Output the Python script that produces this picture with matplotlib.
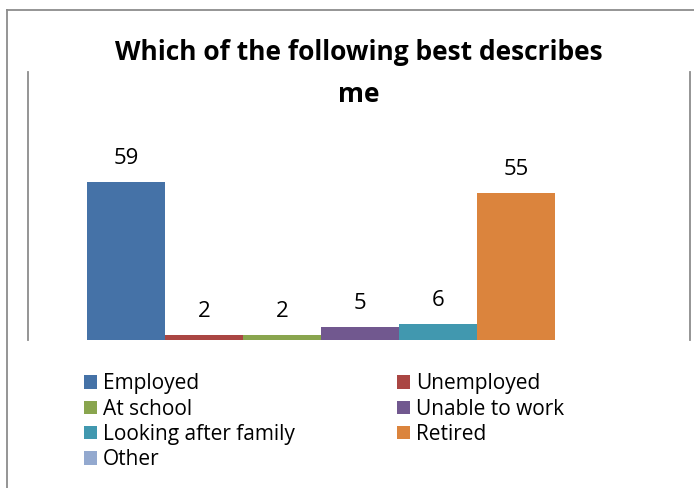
import matplotlib
matplotlib.use("Agg")
import matplotlib.pyplot as plt
from matplotlib.lines import Line2D
from matplotlib.patches import Patch

plt.rcParams['font.family'] = ['Open Sans', 'DejaVu Sans']

title = "Which of the following best describes\nme"
categories = ["Employed", "Unemployed", "At school", "Unable to work",
              "Looking after family", "Retired", "Other"]
values = [59, 2, 2, 5, 6, 55, 0]
colors = ["#4572A7", "#AA4643", "#89A54E", "#71588F", "#4198AF", "#DB843D", "#93A9CF"]

W, H = 694, 488
fig = plt.figure(figsize=(W / 100, H / 100), dpi=100)

# chart-area frame
frame_c = "#8c8c8c"
fig.add_artist(Line2D([7 / W, 7 / W], [0, 1 - 10 / H], color=frame_c, lw=1.3))
fig.add_artist(Line2D([7 / W, 1], [1 - 10 / H, 1 - 10 / H], color=frame_c, lw=1.3))

# plot area
left, right, top, bottom = 28, 690, 72, 340
ax = fig.add_axes([left / W, 1 - bottom / H, (right - left) / W, (bottom - top) / H])
ax.set_xlim(-1.256, 7.23)
ax.set_ylim(0, 100)
for s in ("top", "bottom"):
    ax.spines[s].set_visible(False)
for s in ("left", "right"):
    ax.spines[s].set_color(frame_c)
    ax.spines[s].set_linewidth(1.3)
ax.set_xticks([])
ax.set_yticks([])

x = list(range(len(categories)))
bars = ax.bar(x, values, width=1.0, color=colors, linewidth=0)
for xi, v in zip(x, values):
    if v > 0:
        ax.annotate(str(v), (xi, v), xytext=(0, 13), textcoords="offset points",
                    ha="center", va="baseline", fontsize=16, color="#000000")

fig.text(0.5 * (left + right) / W, 1 - 102 / H, title, ha="center", va="baseline",
         fontsize=19, fontweight="bold", linespacing=1.72)

# legend, filled row by row across two columns
order = [0, 2, 4, 6, 1, 3, 5]
handles = [Patch(facecolor=colors[i], edgecolor="none") for i in order]
labels = [categories[i] for i in order]
fig.legend(handles, labels, ncol=2, loc="upper left",
           bbox_to_anchor=(74 / W, 1 - 363 / H), frameon=False,
           fontsize=15, handlelength=0.62, handleheight=0.62, handletextpad=0.28,
           columnspacing=4.9, labelspacing=0.205, borderpad=0)

fig.savefig("out.png", dpi=100)
